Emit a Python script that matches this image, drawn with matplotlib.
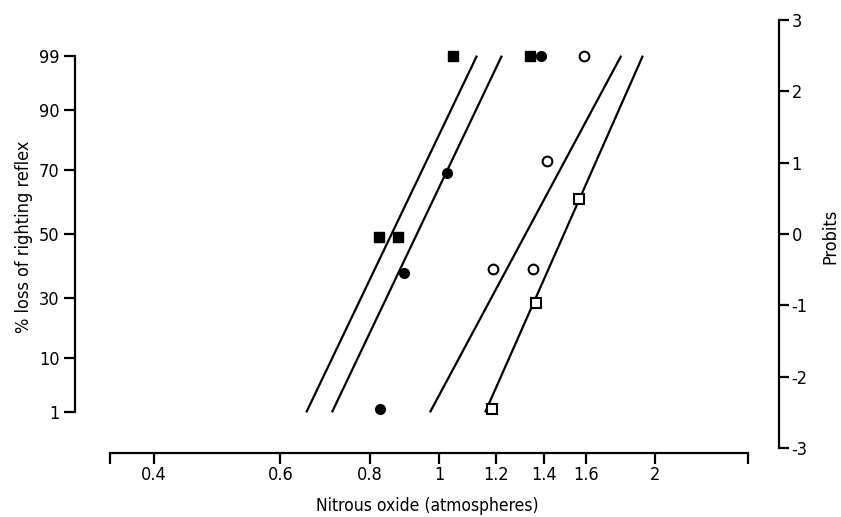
import numpy as np
import matplotlib
matplotlib.use("Agg")
import matplotlib.pyplot as plt
from matplotlib.ticker import FixedLocator, NullFormatter, FixedFormatter

plt.rcParams['font.family'] = ['DejaVu Sans']
plt.rcParams['font.stretch'] = 'condensed'

# ---- data ----
# filled squares
fsq_x = [1.046, 0.824, 0.875, 1.338]
fsq_y = [99, 49, 49, 99]
# filled circles
fci_x = [1.024, 0.891, 0.827, 1.385]
fci_y = [69, 38, 1.5, 99]
# open circles
oci_x = [1.592, 1.412, 1.189, 1.352]
oci_y = [99, 73, 39, 39]
# open squares
osq_x = [1.566, 1.364, 1.183]
osq_y = [61, 28.5, 1.5]

# fitted lines: dose at 1% and at 99%
line_pct = [1, 99]
line_A = [0.652, 1.128]
line_B = [0.708, 1.222]
line_C = [0.970, 1.793]
line_D = [1.158, 1.922]

# axis scales / labels
pct_ticks = [1, 10, 30, 50, 70, 90, 99]
pct_pos = [-2.5, -1.74, -0.9, 0.0, 0.9, 1.74, 2.5]   # position on probit axis
probit_ticks = [-3, -2, -1, 0, 1, 2, 3]
x_ticks = [0.4, 0.6, 0.8, 1, 1.2, 1.4, 1.6, 2]
x_labels = ['0.4', '0.6', '0.8', '1', '1.2', '1.4', '1.6', '2']
x_ends = [0.347, 2.696]


def ppos(p):
    return np.interp(p, pct_ticks, pct_pos)


W, H = 841, 517
fig = plt.figure(figsize=(W / 100, H / 100), dpi=100)
L, R, B, T = 75, 779, 453, 20
ax = fig.add_axes([L / W, (H - B) / H, (R - L) / W, (B - T) / H])
ax.set_xscale('log')
ax.set_xlim(0.3102, 2.976)
ax.set_ylim(-3.07, 3.0)

lw = 1.6
for ln in (line_A, line_B, line_C, line_D):
    ax.plot(ln, ppos(line_pct), color='black', lw=lw, solid_capstyle='butt')

ms = 7
ax.plot(fsq_x, ppos(fsq_y), 's', ms=ms, color='black', ls='none')
ax.plot(fci_x, ppos(fci_y), 'o', ms=ms, color='black', ls='none')
ax.plot(oci_x, ppos(oci_y), 'o', ms=ms, mfc='white', mec='black', mew=1.5, ls='none')
ax.plot(osq_x, ppos(osq_y), 's', ms=ms, mfc='white', mec='black', mew=1.5, ls='none')

fs = 13
# spines
for s in ('top', 'right'):
    ax.spines[s].set_visible(False)
ax.spines['left'].set_linewidth(1.6)
ax.spines['bottom'].set_linewidth(1.6)
ax.spines['left'].set_bounds(pct_pos[0], pct_pos[-1])
ax.spines['bottom'].set_bounds(x_ends[0], x_ends[1])

ax.yaxis.set_major_locator(FixedLocator(pct_pos))
ax.yaxis.set_major_formatter(FixedFormatter([str(p) for p in pct_ticks]))
ax.yaxis.set_minor_locator(FixedLocator([]))
ax.tick_params(axis='y', which='major', direction='out', length=8, width=1.6,
               pad=3, labelsize=fs)

ax.xaxis.set_major_locator(FixedLocator(x_ticks))
ax.xaxis.set_major_formatter(FixedFormatter(x_labels))
ax.xaxis.set_minor_locator(FixedLocator(x_ends))
ax.xaxis.set_minor_formatter(NullFormatter())
ax.tick_params(axis='x', which='both', direction='out', length=8, width=1.6,
               pad=1, labelsize=fs)

ax.set_xlabel('Nitrous oxide (atmospheres)', fontsize=12.5, labelpad=10)
ax.set_ylabel('% loss of righting reflex', fontsize=fs, labelpad=4)

ax2 = ax.twinx()
ax2.set_ylim(ax.get_ylim())
for s in ('top', 'left', 'bottom'):
    ax2.spines[s].set_visible(False)
ax2.spines['right'].set_linewidth(1.6)
ax2.spines['right'].set_bounds(-3, 3)
ax2.yaxis.set_major_locator(FixedLocator(probit_ticks))
ax2.yaxis.set_major_formatter(FixedFormatter([str(p) for p in probit_ticks]))
ax2.tick_params(axis='y', direction='out', length=7, width=1.6, pad=2, labelsize=fs)
ax2.set_ylabel('Probits', fontsize=fs, labelpad=10)

fig.savefig('out.png', dpi=100, facecolor='white')
